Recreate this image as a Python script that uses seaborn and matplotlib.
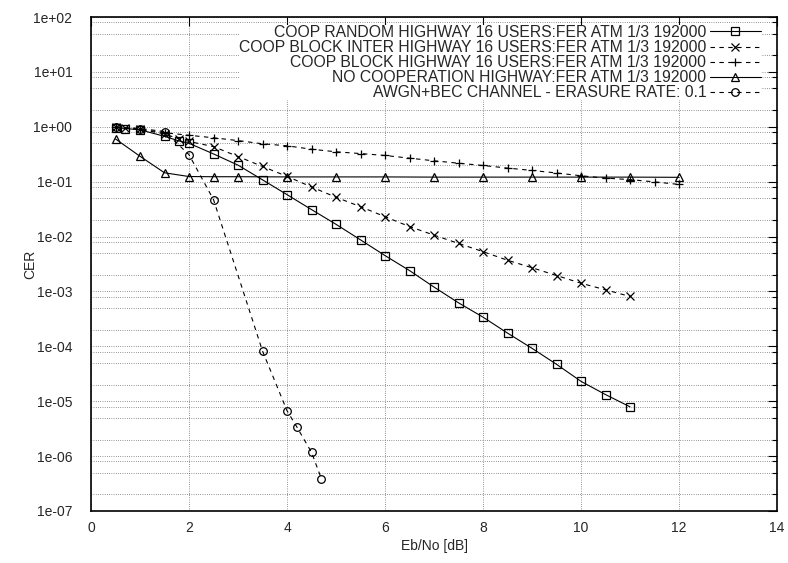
''' CER vs Eb/No for cooperative highway schemes (gnuplot-style log plot) '''
import matplotlib
matplotlib.use('Agg')
import matplotlib.pyplot as plt
import matplotlib.ticker as mticker
import seaborn as sns


#%% Data
coop_random_x = [0.5, 0.7, 1.0, 1.5, 1.8, 2.0, 2.5, 3.0, 3.5, 4.0, 4.5, 5.0, 5.5, 6.0,
                 6.5, 7.0, 7.5, 8.0, 8.5, 9.0, 9.5, 10.0, 10.5, 11.0]
coop_random_y = [0.97, 0.93, 0.88, 0.67, 0.55, 0.50, 0.32, 0.20, 0.108, 0.058, 0.031,
                 0.0167, 0.0087, 0.0045, 0.0024, 1.2e-3, 6.2e-4, 3.4e-4, 1.74e-4,
                 9.2e-5, 4.7e-5, 2.3e-5, 1.32e-5, 7.9e-6]

coop_inter_x = [0.5, 0.7, 1.0, 1.5, 1.8, 2.0, 2.5, 3.0, 3.5, 4.0, 4.5, 5.0, 5.5, 6.0,
                6.5, 7.0, 7.5, 8.0, 8.5, 9.0, 9.5, 10.0, 10.5, 11.0]
coop_inter_y = [0.98, 0.94, 0.90, 0.74, 0.60, 0.54, 0.435, 0.287, 0.189, 0.125, 0.080,
                0.052, 0.035, 0.023, 0.0152, 0.0106, 7.5e-3, 5.3e-3, 3.7e-3, 2.7e-3,
                1.95e-3, 1.41e-3, 1.07e-3, 8.1e-4]

coop_block_x = [0.5, 1.0, 1.5, 2.0, 2.5, 3.0, 3.5, 4.0, 4.5, 5.0, 5.5, 6.0, 6.5, 7.0,
                7.5, 8.0, 8.5, 9.0, 9.5, 10.0, 10.5, 11.0, 11.5, 12.0]
coop_block_y = [0.98, 0.90, 0.78, 0.70, 0.63, 0.56, 0.49, 0.45, 0.39, 0.35, 0.325, 0.30,
                0.268, 0.24, 0.217, 0.197, 0.177, 0.16, 0.144, 0.128, 0.116, 0.109,
                0.099, 0.089]

no_coop_x = [0.5, 1.0, 1.5, 2.0, 2.5, 3.0, 4.0, 5.0, 6.0, 7.0, 8.0, 9.0, 10.0, 11.0, 12.0]
no_coop_y = [0.60, 0.29, 0.145, 0.124, 0.123, 0.123, 0.122, 0.122, 0.122, 0.121, 0.121,
             0.121, 0.121, 0.121, 0.12]

awgn_x = [0.5, 1.0, 1.5, 2.0, 2.5, 3.5, 4.0, 4.2, 4.5, 4.7]
awgn_y = [1.0, 0.93, 0.82, 0.31, 0.047, 8.2e-5, 6.7e-6, 3.4e-6, 1.17e-6, 3.9e-7]

labels = ['COOP RANDOM HIGHWAY 16 USERS:FER ATM 1/3 192000',
          'COOP BLOCK INTER HIGHWAY 16 USERS:FER ATM 1/3 192000',
          'COOP BLOCK HIGHWAY 16 USERS:FER ATM 1/3 192000',
          'NO COOPERATION HIGHWAY:FER ATM 1/3 192000',
          'AWGN+BEC CHANNEL - ERASURE RATE: 0.1']

y_decades = [1e-7, 1e-6, 1e-5, 1e-4, 1e-3, 1e-2, 1e-1, 1e0, 1e1, 1e2]

series = [
    (coop_random_x, coop_random_y, 's', '-'),
    (coop_inter_x, coop_inter_y, 'x', (0, (4, 4))),
    (coop_block_x, coop_block_y, '+', (0, (4, 4))),
    (no_coop_x, no_coop_y, '^', '-'),
    (awgn_x, awgn_y, 'o', (0, (4, 4))),
]


#%% Plot
sns.set_style('white')
plt.rcParams['font.family'] = ['Liberation Sans', 'DejaVu Sans']

fig = plt.figure(figsize=(7.88, 5.63), dpi=100)
ax = fig.add_axes([0.1155, 0.0924, 0.8706, 0.8774])

for (x, y, m, ls), lab in zip(series, labels):
    sns.lineplot(x=x, y=y, ax=ax, label=lab, color='black', linewidth=0.8,
                 linestyle=ls, marker=m, markersize=5.5, markerfacecolor='none',
                 markeredgecolor='black', markeredgewidth=0.9, sort=False)

ax.set_yscale('log')
ax.set_xlim(0, 14)
ax.set_ylim(1e-7, 1e2)
ax.xaxis.set_major_locator(mticker.MultipleLocator(2))
ax.yaxis.set_major_locator(mticker.FixedLocator(y_decades))
ax.yaxis.set_minor_locator(mticker.FixedLocator(
    [d * s for d in y_decades[:-1] for s in (2, 5, 8)]))
ax.yaxis.set_minor_formatter(mticker.NullFormatter())
ax.yaxis.set_major_formatter(mticker.FuncFormatter(lambda v, p: f'{v:.0e}'))

ax.tick_params(which='both', direction='in', top=True, right=True, labelsize=10,
               color='black')
ax.tick_params(which='major', length=6.5, width=0.8)
ax.tick_params(which='minor', length=3.5, width=0.8)
ax.tick_params(axis='y', pad=13.5)
ax.tick_params(axis='x', pad=7)

ax.grid(True, which='major', axis='both', color='#333333', linestyle=(0, (1, 2.2)),
        linewidth=0.5)
ax.grid(True, which='minor', axis='y', color='#333333', linestyle=(0, (1, 2.2)),
        linewidth=0.5)
for s in ax.spines.values():
    s.set_color('black')
    s.set_linewidth(1.2)

ax.set_xlabel('Eb/No [dB]', fontsize=10)
ax.set_ylabel('CER', fontsize=10)
ax.yaxis.set_label_coords(-0.079, 0.5)
ax.xaxis.set_label_coords(0.5, -0.057)

leg = ax.legend(loc='upper right', bbox_to_anchor=(0.9751, 0.9698),
                bbox_transform=fig.transFigure, markerfirst=False,
                fontsize=11.3, handlelength=3.2, handletextpad=0.25,
                labelspacing=0.01, borderpad=0.0, frameon=True, fancybox=False,
                framealpha=1, edgecolor='none', facecolor='white')
leg.set_zorder(5)

fig.savefig('out.png', dpi=100)
